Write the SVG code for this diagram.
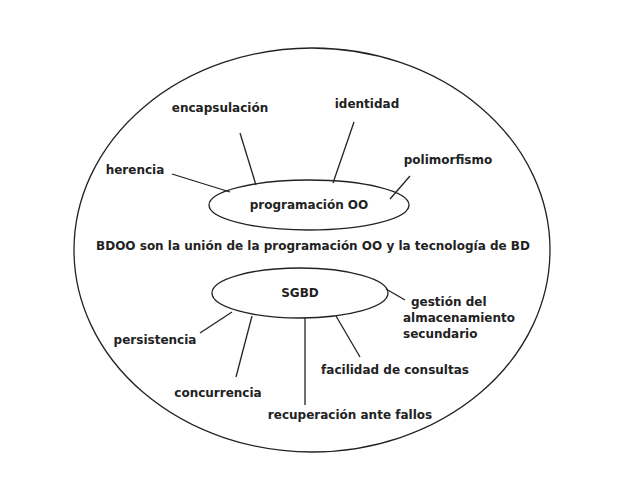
<svg xmlns="http://www.w3.org/2000/svg" width="626" height="480" viewBox="0 0 626 480">
<style>
text{font-family:"DejaVu Sans",sans-serif;font-size:12px;font-weight:bold;fill:#222}
.s{fill:none;stroke:#222;stroke-width:1.3}
</style>
<rect width="626" height="480" fill="#fff"/>
<g id="outer"><ellipse class="s" cx="312" cy="250" rx="238" ry="202"/></g>
<g id="connectors">
<line class="s" x1="240" y1="133" x2="256" y2="185"/>
<line class="s" x1="354" y1="122" x2="333" y2="183"/>
<line class="s" x1="410" y1="176" x2="390" y2="199"/>
<line class="s" x1="172" y1="174" x2="230" y2="192"/>
<line class="s" x1="386" y1="289" x2="405" y2="300"/>
<line class="s" x1="232" y1="312" x2="200" y2="333"/>
<line class="s" x1="252" y1="316" x2="236" y2="377"/>
<line class="s" x1="305" y1="318" x2="305" y2="405"/>
<line class="s" x1="336" y1="316" x2="360" y2="357"/>
</g>
<g id="prog"><ellipse class="s" cx="309" cy="205" rx="100" ry="25"/><text x="309" y="209" text-anchor="middle">programación OO</text></g>
<g id="sgbd"><ellipse class="s" cx="300" cy="293" rx="88" ry="25"/><text x="300" y="297" text-anchor="middle">SGBD</text></g>
<g id="encap"><text x="220" y="112" text-anchor="middle">encapsulación</text></g>
<g id="ident"><text x="367" y="108" text-anchor="middle">identidad</text></g>
<g id="poli"><text x="448" y="164" text-anchor="middle">polimorfismo</text></g>
<g id="her"><text x="135" y="174" text-anchor="middle">herencia</text></g>
<g id="bdoo"><text x="313" y="250" text-anchor="middle">BDOO son la unión de la programación OO y la tecnología de BD</text></g>
<g id="gest"><text x="411" y="306">gestión del</text><text x="403" y="322">almacenamiento</text><text x="403" y="338">secundario</text></g>
<g id="pers"><text x="155" y="344" text-anchor="middle">persistencia</text></g>
<g id="conc"><text x="218" y="397" text-anchor="middle">concurrencia</text></g>
<g id="rec"><text x="350" y="419" text-anchor="middle">recuperación ante fallos</text></g>
<g id="fac"><text x="395" y="374" text-anchor="middle">facilidad de consultas</text></g>
</svg>
